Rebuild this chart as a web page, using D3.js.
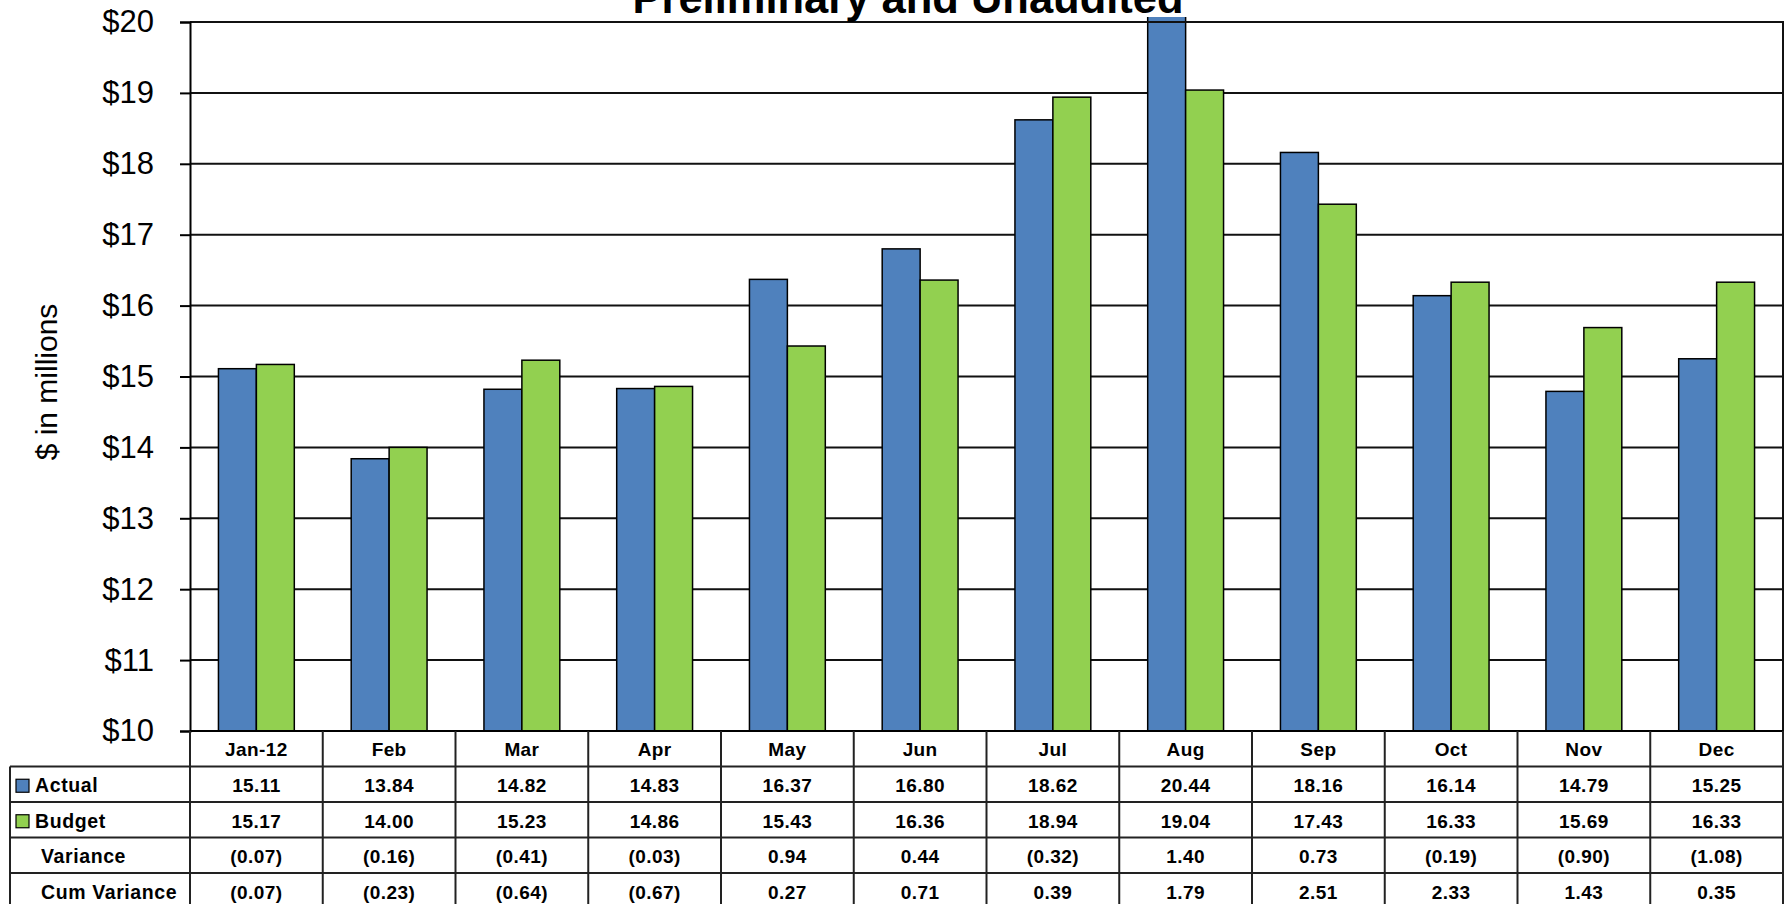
<!DOCTYPE html>
<html>
<head>
<meta charset="utf-8">
<script src="https://cdn.jsdelivr.net/npm/d3@7"></script>
<style>
  html, body { margin: 0; padding: 0; background: #fff; }
  svg { display: block; font-family: "Liberation Sans", Arial, sans-serif; }
</style>
</head>
<body>
<svg id="chart" width="1790" height="904"></svg>
<script>
// Monthly figures, $ in millions
const months   = ["Jan-12", "Feb", "Mar", "Apr", "May", "Jun", "Jul", "Aug", "Sep", "Oct", "Nov", "Dec"];
const actual   = [15.11, 13.84, 14.82, 14.83, 16.37, 16.80, 18.62, 20.44, 18.16, 16.14, 14.79, 15.25];
const budget   = [15.17, 14.00, 15.23, 14.86, 15.43, 16.36, 18.94, 19.04, 17.43, 16.33, 15.69, 16.33];
const variance = [-0.07, -0.16, -0.41, -0.03, 0.94, 0.44, -0.32, 1.40, 0.73, -0.19, -0.90, -1.08];
const cumVariance = [-0.07, -0.23, -0.64, -0.67, 0.27, 0.71, 0.39, 1.79, 2.51, 2.33, 1.43, 0.35];
const seriesNames = ["Actual", "Budget"];
const seriesColors = ["#4F81BD", "#92D050"];
const yTicks = [10, 11, 12, 13, 14, 15, 16, 17, 18, 19, 20];
const titleText = "Preliminary and Unaudited";
const yAxisTitle = "$ in millions";

const svg = d3.select("#chart");
const plot = { left: 190, right: 1783, top: 22, bottom: 731 };

const x = d3.scaleBand().domain(months).range([plot.left, plot.right]).padding(0);
const xs = d3.scaleBand().domain(seriesNames).range([0, x.bandwidth()])
  .paddingInner(0).paddingOuter(0.75);
const y = d3.scaleLinear().domain([10, 20]).range([plot.bottom, plot.top]);
const color = d3.scaleOrdinal().domain(seriesNames).range(seriesColors);

const rows = months.map((m, i) => ({ month: m, Actual: actual[i], Budget: budget[i] }));

// gridlines
svg.append("g")
  .selectAll("line")
  .data(yTicks.filter(t => t > 10))
  .join("line")
  .attr("x1", plot.left).attr("x2", plot.right)
  .attr("y1", d => y(d)).attr("y2", d => y(d))
  .attr("stroke", "#111").attr("stroke-width", 2);

// bars (clipped just above the top of the value range)
svg.append("clipPath").attr("id", "plotClip")
  .append("rect")
  .attr("x", plot.left).attr("y", plot.top - 5)
  .attr("width", plot.right - plot.left).attr("height", plot.bottom - plot.top + 5);

const barLayer = svg.append("g").attr("clip-path", "url(#plotClip)");
barLayer.selectAll("g")
  .data(rows)
  .join("g")
  .attr("transform", d => `translate(${x(d.month)},0)`)
  .selectAll("rect")
  .data(d => seriesNames.map(s => ({ key: s, value: d[s] })))
  .join("rect")
  .attr("x", d => xs(d.key))
  .attr("width", xs.bandwidth())
  .attr("y", d => y(d.value))
  .attr("height", d => y(10) - y(d.value))
  .attr("fill", d => color(d.key))
  .attr("stroke", "#000")
  .attr("stroke-width", 1.5);

// plot frame: top and right edges
svg.append("path")
  .attr("d", `M${plot.left},${plot.top}H${plot.right}V${plot.bottom}`)
  .attr("fill", "none").attr("stroke", "#111").attr("stroke-width", 2);

// value axis
const yAxis = d3.axisLeft(y).tickValues(yTicks).tickFormat(d => "$" + d)
  .tickSize(10).tickPadding(26);
const yg = svg.append("g").attr("transform", `translate(${plot.left},0)`).call(yAxis);
yg.select(".domain").attr("stroke", "#000").attr("stroke-width", 2);
yg.selectAll(".tick line").attr("stroke", "#000").attr("stroke-width", 2);
yg.selectAll(".tick text")
  .attr("font-family", "'Liberation Sans', Arial, sans-serif")
  .attr("font-size", 31).attr("fill", "#000");

// axis title
svg.append("text")
  .attr("transform", `translate(57,382) rotate(-90)`)
  .attr("text-anchor", "middle")
  .attr("font-size", 30)
  .attr("fill", "#000")
  .text(yAxisTitle);

// chart title
svg.append("text")
  .attr("x", 908).attr("y", 12.5)
  .attr("text-anchor", "middle")
  .attr("font-size", 43.5).attr("font-weight", "bold")
  .attr("fill", "#000")
  .text(titleText);

// data table under the axis
const rowH = 35.5;
const tableLeft = 10;
const fmt = v => v < 0 ? "(" + Math.abs(v).toFixed(2) + ")" : v.toFixed(2);
const tableRows = [
  { label: "Actual", values: actual.map(fmt), key: "Actual" },
  { label: "Budget", values: budget.map(fmt), key: "Budget" },
  { label: "Variance", values: variance.map(fmt) },
  { label: "Cum Variance", values: cumVariance.map(fmt) }
];
const tg = svg.append("g").attr("font-weight", "bold").attr("font-size", 19)
  .attr("letter-spacing", 0.4).attr("fill", "#000");
const lineColor = "#222";

// header row: month names
tg.selectAll("text.month")
  .data(months)
  .join("text")
  .attr("class", "month")
  .attr("x", d => x(d) + x.bandwidth() / 2)
  .attr("y", plot.bottom + rowH / 2 + 7)
  .attr("text-anchor", "middle")
  .text(d => d);

// body rows
tableRows.forEach((r, i) => {
  const top = plot.bottom + rowH * (i + 1);
  const cy = top + rowH / 2 + 8;
  const label = tg.append("text")
    .attr("font-size", 19.5).attr("letter-spacing", 0.6)
    .attr("y", cy).text(r.label);
  if (r.key) {
    tg.append("rect")
      .attr("x", 16).attr("y", top + rowH / 2 - 5)
      .attr("width", 13).attr("height", 13)
      .attr("fill", color(r.key)).attr("stroke", "#000").attr("stroke-width", 1.2);
    label.attr("x", 35);
  } else {
    label.attr("x", 41);
  }
  tg.append("g").selectAll("text")
    .data(r.values)
    .join("text")
    .attr("x", (d, j) => x(months[j]) + x.bandwidth() / 2)
    .attr("y", cy)
    .attr("text-anchor", "middle")
    .text(d => d);
});

// table grid lines
const gl = svg.append("g").attr("stroke", lineColor).attr("stroke-width", 2);
const nRows = tableRows.length;
const tableBottom = plot.bottom + rowH * (nRows + 1);
// horizontal rules
gl.append("line").attr("x1", plot.left).attr("x2", plot.right)
  .attr("y1", plot.bottom).attr("y2", plot.bottom).attr("stroke", "#000");
d3.range(1, nRows + 2).forEach(k => {
  gl.append("line").attr("x1", tableLeft).attr("x2", plot.right)
    .attr("y1", plot.bottom + rowH * k).attr("y2", plot.bottom + rowH * k);
});
// vertical rules
gl.append("line").attr("x1", tableLeft).attr("x2", tableLeft)
  .attr("y1", plot.bottom + rowH).attr("y2", tableBottom);
months.forEach(m => {
  gl.append("line").attr("x1", x(m)).attr("x2", x(m))
    .attr("y1", plot.bottom).attr("y2", tableBottom);
});
gl.append("line").attr("x1", plot.right).attr("x2", plot.right)
  .attr("y1", plot.bottom).attr("y2", tableBottom);
</script>
</body>
</html>
